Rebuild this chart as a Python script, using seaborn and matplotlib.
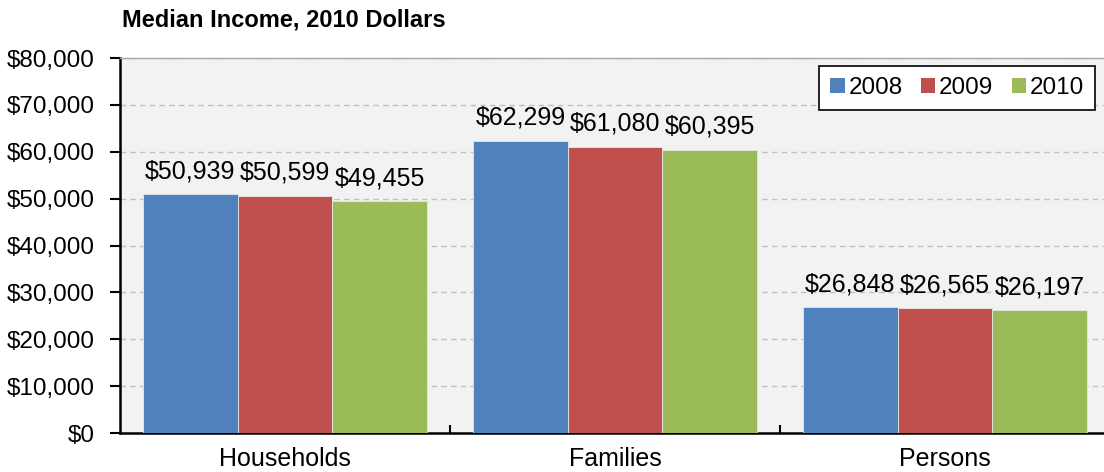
import matplotlib
matplotlib.use("Agg")
import matplotlib.pyplot as plt
from matplotlib.ticker import FuncFormatter, FixedLocator
import pandas as pd
import seaborn as sns

categories = ["Households", "Families", "Persons"]
years = ["2008", "2009", "2010"]
income_2008 = [50939, 62299, 26848]
income_2009 = [50599, 61080, 26565]
income_2010 = [49455, 60395, 26197]
colors = ["#4F81BD", "#C0504D", "#9BBB59"]

rows = []
for year, vals in zip(years, [income_2008, income_2009, income_2010]):
    for cat, v in zip(categories, vals):
        rows.append({"Group": cat, "Year": year, "Income": v})
df = pd.DataFrame(rows)

sns.set_theme(style="white")
plt.rcParams["font.family"] = ["Liberation Sans", "DejaVu Sans"]
plt.rcParams["text.color"] = "black"
plt.rcParams["xtick.color"] = "black"
plt.rcParams["ytick.color"] = "black"

fig = plt.figure(figsize=(11.04, 4.72), dpi=100)
ax = fig.add_axes([120 / 1104, 39 / 472, 990 / 1104, 375 / 472])
ax.set_facecolor("#f2f2f2")

sns.barplot(data=df, x="Group", y="Income", hue="Year", palette=colors,
            width=0.86, saturation=1, edgecolor="#e8e8e8", linewidth=0.6,
            ax=ax, zorder=3)

for cont in ax.containers:
    labels = ["${:,.0f}".format(b.get_height()) for b in cont]
    ax.bar_label(cont, labels=labels, padding=8, fontsize=18, color="black", zorder=4)

ax.set_ylim(0, 80000)
ax.set_xlim(-0.5, 2.5)
ax.yaxis.set_major_locator(FixedLocator(range(0, 80001, 10000)))
ax.yaxis.set_major_formatter(FuncFormatter(lambda v, p: "${:,.0f}".format(v)))
ax.grid(axis="y", linestyle=(0, (4, 3)), color="#c0c0c0", linewidth=1, zorder=0)
ax.set_axisbelow(True)

ax.tick_params(axis="y", which="major", direction="out", length=7, width=1.5,
               color="black", labelsize=17.5, pad=11, left=True)
ax.tick_params(axis="x", which="major", length=0, labelsize=18, pad=10)
ax.xaxis.set_minor_locator(FixedLocator([0.5, 1.5]))
ax.tick_params(axis="x", which="minor", direction="in", length=6, width=1.5,
               color="black", bottom=True)

ax.set_xlabel("")
ax.set_ylabel("")
for s in ["left", "bottom"]:
    ax.spines[s].set_color("black")
    ax.spines[s].set_linewidth(1.8)
ax.spines["top"].set_color("#a6a6a6")
ax.spines["top"].set_linewidth(1)
ax.spines["right"].set_visible(False)

leg = ax.legend(loc="upper right", bbox_to_anchor=((1095 - 120) / 990, 1 - 8 / 375),
                ncol=3, fontsize=17.5, frameon=True, fancybox=False,
                handlelength=0.6, handleheight=0.6, handletextpad=0.15,
                columnspacing=0.75, borderpad=0.45, borderaxespad=0,
                framealpha=1)
leg.get_frame().set_edgecolor("black")
leg.get_frame().set_linewidth(1.2)
for h in leg.legend_handles:
    h.set_edgecolor("none")

fig.text(122 / 1104, 1 - 20 / 472, "Median Income, 2010 Dollars",
         fontsize=17, fontweight="bold", va="center", ha="left")

fig.savefig("out.png", dpi=100)
